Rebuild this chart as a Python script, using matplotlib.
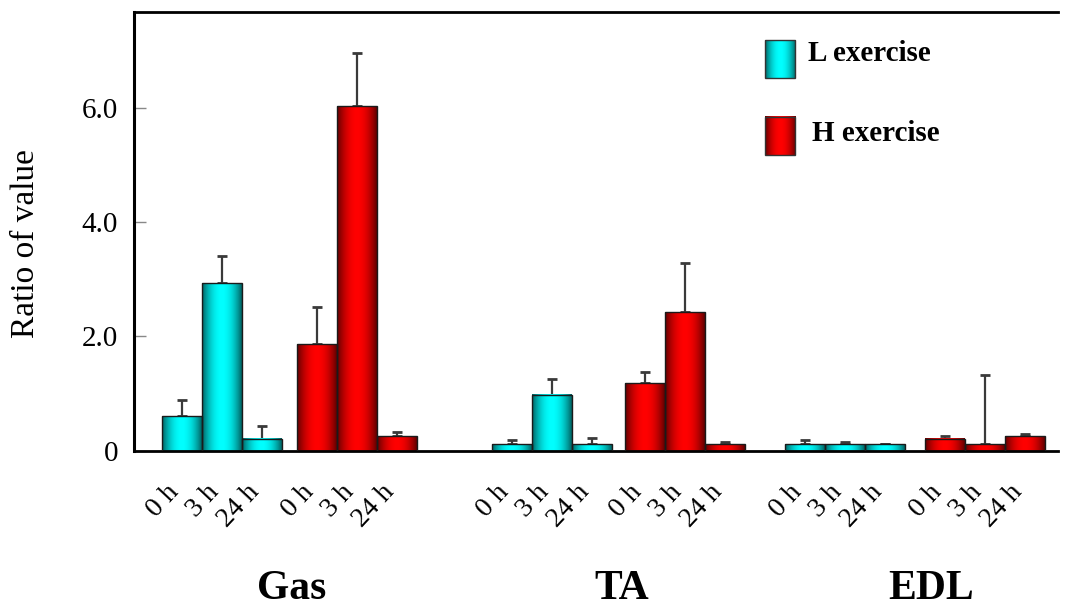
import numpy as np
import matplotlib
matplotlib.use("Agg")
import matplotlib.pyplot as plt

# ---------------- data ----------------
muscles = ["Gas", "TA", "EDL"]
times = ["0 h", "3 h", "24 h"]
series_names = ["L exercise", "H exercise"]

L_mean = [[0.60, 2.93, 0.21], [0.12, 0.98, 0.12], [0.12, 0.12, 0.12]]
L_err = [[0.29, 0.47, 0.22], [0.06, 0.28, 0.10], [0.065, 0.04, 0.0]]
H_mean = [[1.86, 6.03, 0.26], [1.18, 2.43, 0.12], [0.21, 0.11, 0.26]]
H_err = [[0.66, 0.93, 0.07], [0.20, 0.86, 0.03], [0.05, 1.21, 0.035]]

y_ticks = [0, 2, 4, 6]
y_ticklabels = ["0", "2.0", "4.0", "6.0"]

# ---------------- layout ----------------
W, H = 1069, 610
group_start = [182, 512, 805]       # centre of first bar of each muscle group
h_offset = [135, 133, 140]          # shift of H-exercise sub-group
bar_step = 40
bar_w = 40
label_dx = -7

cyan = np.array([0.0, 1.0, 1.0])
red = np.array([1.0, 0.0, 0.0])

plt.rcParams["font.family"] = ["Liberation Serif", "DejaVu Serif"]

fig = plt.figure(figsize=(W / 100, H / 100), dpi=100)
ax = fig.add_axes([133.5 / W, 1 - 450.7 / H, (1058 - 133.5) / W, (450.7 - 12) / H])


def gradient(base, n=96):
    t = np.linspace(0, 1, n)
    b = 1 - 0.62 * np.abs(2 * t - 1) ** 2.0
    g = base[None, :] * b[:, None]
    return g[None, :, :]


def draw_bars(xs, vals, errs, base):
    for x, v in zip(xs, vals):
        ax.imshow(gradient(base), extent=[x - bar_w / 2, x + bar_w / 2, 0, v],
                  aspect="auto", zorder=2, interpolation="bilinear")
    ax.bar(xs, vals, width=bar_w, facecolor="none", edgecolor="#1a1a1a",
           linewidth=1.0, zorder=3)
    ax.errorbar(xs, vals, yerr=[np.zeros(len(vals)), errs], fmt="none",
                ecolor="#3a3a3a", elinewidth=1.6, capsize=3.6, capthick=2.0,
                zorder=1)


tick_pos, tick_lab = [], []
for i, m in enumerate(muscles):
    xl = [group_start[i] + bar_step * j for j in range(3)]
    xh = [group_start[i] + h_offset[i] + bar_step * j for j in range(3)]
    draw_bars(xl, L_mean[i], L_err[i], cyan)
    draw_bars(xh, H_mean[i], H_err[i], red)
    for x, t in zip(xl + xh, times + times):
        tick_pos.append(x + label_dx)
        tick_lab.append(t)

# axes styling
ax.spines["right"].set_visible(False)
ax.spines["left"].set_linewidth(2.2)
ax.spines["top"].set_linewidth(2.0)
ax.spines["bottom"].set_linewidth(2.0)

ax.set_yticks(y_ticks)
ax.set_yticklabels(y_ticklabels, fontsize=21)
ax.tick_params(axis="y", direction="in", length=8.6, width=1.0, color="#888888",
               pad=11)

ax.set_xticks(tick_pos)
ax.set_xticklabels(tick_lab, fontsize=20, rotation=47, ha="right", va="center",
                   rotation_mode="anchor")
ax.tick_params(axis="x", length=0, pad=27)

# y label
fig.text(26 / W, 1 - 244 / H, "Ratio of value", rotation=90, fontsize=24,
         ha="center", va="center")

# group labels
group_x = [292, 622, 931]
for gx, m in zip(group_x, muscles):
    fig.text(gx / W, 1 - 599 / H, m, fontsize=30, fontweight="bold",
             ha="center", va="baseline")

# legend (drawn manually inside the axes)
leg_boxes = [(0.683, 0.8496, 0.936), (0.683, 0.674, 0.7607)]
leg_text = [(0.7296, 0.9065), (0.734, 0.724)]
for (lx, yb, yt), (tx, ty), base, name in zip(leg_boxes, leg_text, [cyan, red],
                                              series_names):
    ax.imshow(gradient(base), extent=[lx, lx + 0.0325, yb, yt],
              aspect="auto", transform=ax.transAxes, zorder=4,
              interpolation="bilinear")
    ax.add_patch(plt.Rectangle((lx, yb), 0.0325, yt - yb, transform=ax.transAxes,
                               facecolor="none", edgecolor="#333333",
                               linewidth=1.0, zorder=5))
    ax.text(tx, ty, name, transform=ax.transAxes, fontsize=21,
            fontweight="bold", ha="left", va="center")

ax.set_xlim(133.5, 1058)
ax.set_ylim(0, (450.7 - 12) / 57.15)

fig.savefig("out.png", dpi=100)
